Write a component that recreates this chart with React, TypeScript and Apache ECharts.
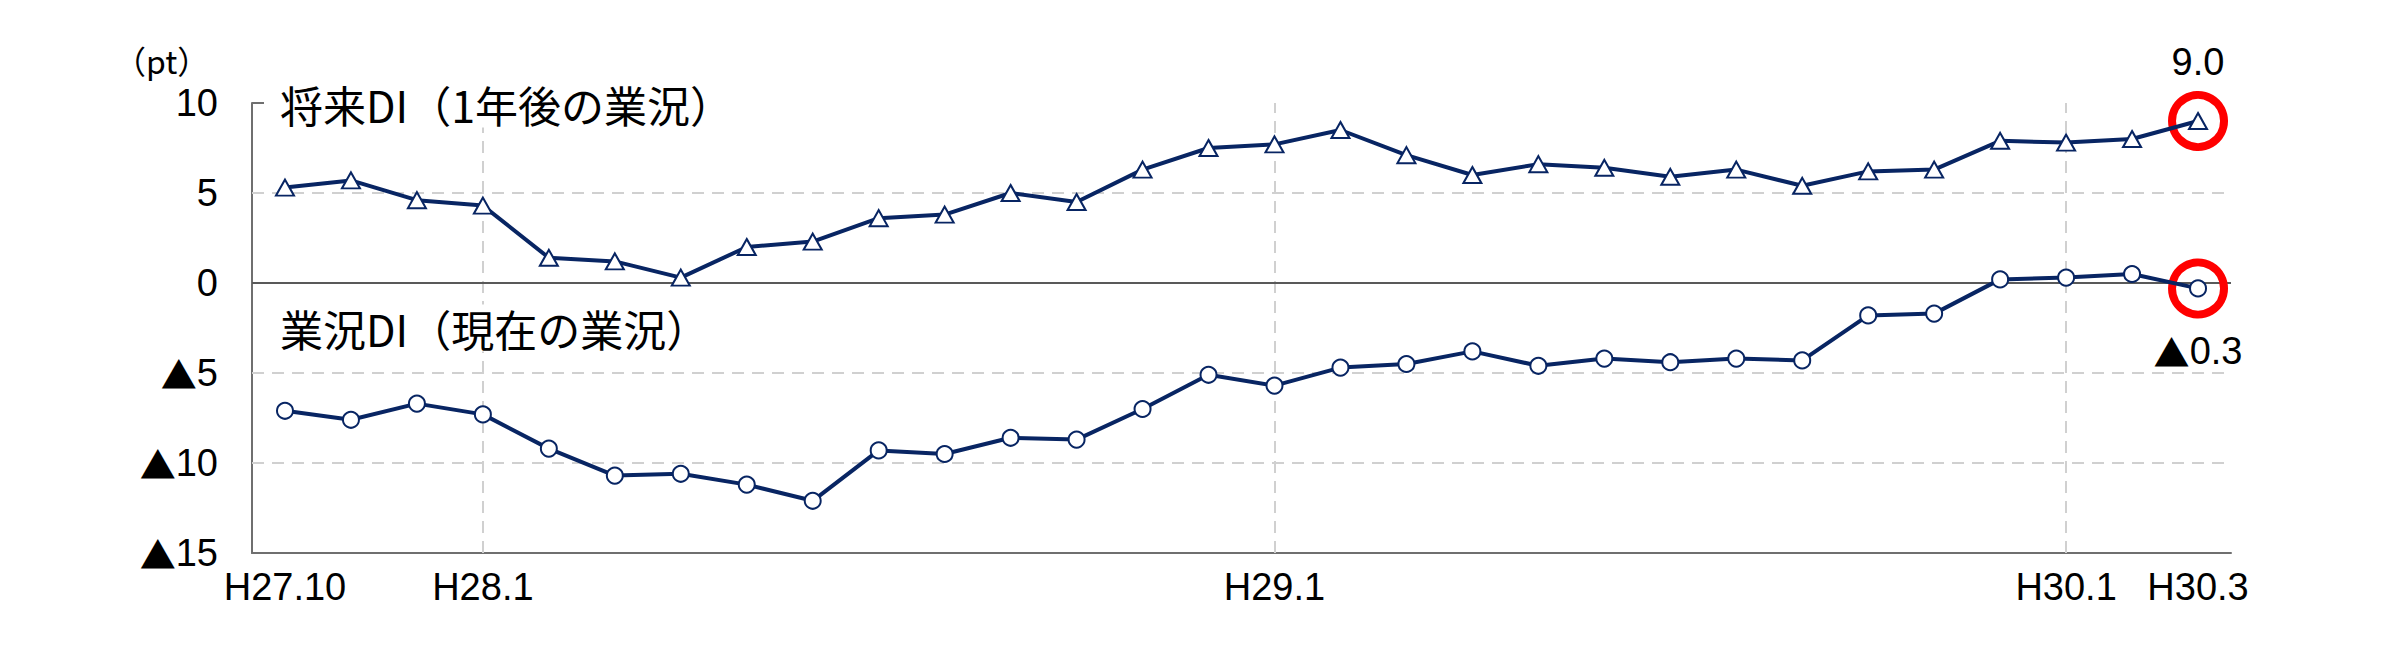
import React, { useEffect, useRef } from 'react';
import * as echarts from 'echarts';

const categories = [
  'H27.10', 'H27.11', 'H27.12',
  'H28.1', 'H28.2', 'H28.3', 'H28.4', 'H28.5', 'H28.6', 'H28.7', 'H28.8', 'H28.9', 'H28.10', 'H28.11', 'H28.12',
  'H29.1', 'H29.2', 'H29.3', 'H29.4', 'H29.5', 'H29.6', 'H29.7', 'H29.8', 'H29.9', 'H29.10', 'H29.11', 'H29.12',
  'H30.1', 'H30.2', 'H30.3',
];
const shownLabels = ['H27.10', 'H28.1', 'H29.1', 'H30.1', 'H30.3'];
const verticalGuides = ['H28.1', 'H29.1', 'H30.1'];

const futureDI = [5.3, 5.7, 4.6, 4.3, 1.4, 1.2, 0.3, 2.0, 2.3, 3.6, 3.8, 5.0, 4.5, 6.3, 7.5, 7.7, 8.5, 7.1, 6.0, 6.6, 6.4, 5.9, 6.3, 5.4, 6.2, 6.3, 7.9, 7.8, 8.0, 9.0];
const currentDI = [-7.1, -7.6, -6.7, -7.3, -9.2, -10.7, -10.6, -11.2, -12.1, -9.3, -9.5, -8.6, -8.7, -7.0, -5.1, -5.7, -4.7, -4.5, -3.8, -4.6, -4.2, -4.4, -4.2, -4.3, -1.8, -1.7, 0.2, 0.3, 0.5, -0.3];

const yTicksDashed = [5, -5, -10];
const futureName = '将来DI（1年後の業況）';
const currentName = '業況DI（現在の業況）';

const NAVY = '#082563';
const NUM_FONT = '"Liberation Sans", Arial, sans-serif';
const JP_FONT = '"Noto Sans CJK JP", sans-serif';
const NUM_SIZE = 38;

const rich = {
  n: { fontFamily: NUM_FONT, fontSize: NUM_SIZE, color: '#000' },
  t: { fontFamily: JP_FONT, fontSize: NUM_SIZE * 0.95, color: '#000' },
};
const withTriangle = (v: number, digits: number) =>
  v < 0 ? `{t|▲}{n|${Math.abs(v).toFixed(digits)}}` : `{n|${v.toFixed(digits)}}`;

export default function App() {
  const ref = useRef<HTMLDivElement>(null);
  useEffect(() => {
    document.body.style.margin = '0';
    const chart = echarts.init(ref.current!, null, { renderer: 'svg' });
    const last = categories.length - 1;
    const markCircle = (value: number, pos: 'top' | 'bottom', dist: number) => ({
      silent: true,
      symbol: 'circle',
      symbolSize: 52,
      itemStyle: { color: 'rgba(0,0,0,0)', borderColor: '#ff0000', borderWidth: 8 },
      label: {
        show: true,
        position: pos,
        distance: dist,
        rich,
        formatter: () => withTriangle(value, 1),
      },
      data: [{ coord: [categories[last], value] }],
    });
    chart.setOption({
      animation: false,
      backgroundColor: '#ffffff',
      grid: { left: 252, right: 161, top: 103, bottom: 97 },
      xAxis: {
        type: 'category',
        data: categories,
        boundaryGap: true,
        axisLine: { show: true, onZero: false, lineStyle: { color: '#6f6f6f', width: 2 } },
        axisTick: { show: false },
        axisLabel: {
          interval: (i: number, v: string) => shownLabels.includes(v),
          color: '#000',
          fontSize: NUM_SIZE,
          fontFamily: NUM_FONT,
          margin: 15,
        },
        splitLine: { show: false },
      },
      yAxis: {
        type: 'value',
        min: -15,
        max: 10,
        interval: 5,
        axisLine: { show: true, lineStyle: { color: '#6f6f6f', width: 2 } },
        axisTick: { show: true, inside: true, length: 12, lineStyle: { color: '#6f6f6f', width: 2 } },
        axisLabel: {
          margin: 34,
          rich,
          formatter: (v: number) => withTriangle(v, 0),
        },
        splitLine: { show: false },
      },
      graphic: [
        {
          type: 'text', x: 114, y: 60, z: 100,
          style: { text: '（pt）', font: `32px ${JP_FONT}`, fill: '#000', verticalAlign: 'middle' },
        },
        {
          type: 'text', x: 276, y: 104, z: 100,
          style: { text: futureName, font: `43px ${JP_FONT}`, fill: '#000', verticalAlign: 'middle', backgroundColor: '#fff', padding: [2, 4] },
        },
        {
          type: 'text', x: 276, y: 328, z: 100,
          style: { text: currentName, font: `43px ${JP_FONT}`, fill: '#000', verticalAlign: 'middle', backgroundColor: '#fff', padding: [2, 4] },
        },
      ],
      series: [
        {
          type: 'line',
          data: [],
          z: 1,
          silent: true,
          markLine: {
            silent: true,
            symbol: 'none',
            label: { show: false },
            lineStyle: { color: '#d0d0d0', width: 2, type: [12, 8] },
            data: [
              ...yTicksDashed.map((v) => ({ yAxis: v })),
              ...verticalGuides.map((c) => ({ xAxis: c })),
              { yAxis: 0, lineStyle: { color: '#595959', width: 2, type: 'solid' } },
            ],
          },
        },
        {
          name: futureName,
          type: 'line',
          data: futureDI,
          z: 5,
          symbol: 'triangle',
          symbolSize: [18, 16],
          showAllSymbol: true,
          lineStyle: { color: NAVY, width: 4 },
          itemStyle: { color: '#ffffff', borderColor: NAVY, borderWidth: 2 },
          markPoint: markCircle(futureDI[last], 'top', 10),
        },
        {
          name: currentName,
          type: 'line',
          data: currentDI,
          z: 5,
          symbol: 'circle',
          symbolSize: 16,
          showAllSymbol: true,
          lineStyle: { color: NAVY, width: 4 },
          itemStyle: { color: '#ffffff', borderColor: NAVY, borderWidth: 2 },
          markPoint: markCircle(currentDI[last], 'bottom', 14),
        },
      ],
    });
    return () => chart.dispose();
  }, []);
  return <div ref={ref} style={{ width: 2392, height: 650 }} />;
}
